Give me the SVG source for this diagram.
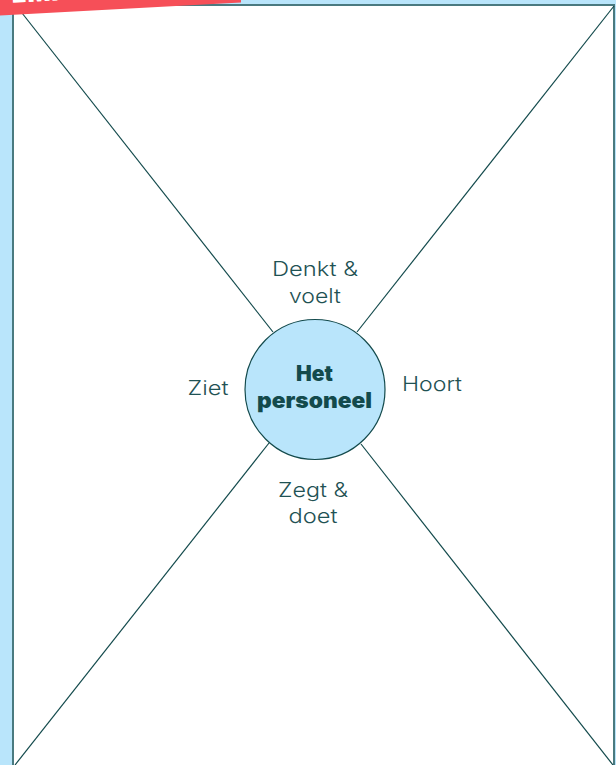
<svg xmlns="http://www.w3.org/2000/svg" width="616" height="765" viewBox="0 0 616 765">
<style>
.l{font-family:"Inter","Liberation Sans",sans-serif;font-size:20px;font-weight:300;fill:#1f5254;text-anchor:middle}
.b{font-family:"Inter","Liberation Sans",sans-serif;font-size:21px;font-weight:900;fill:#134a4c;text-anchor:middle}
.c{stroke:#134a4c;stroke-width:1.2;fill:none}
</style>
<rect width="616" height="765" fill="#b9e5fb"/>
<rect id="frame" x="13" y="5" width="601" height="770" fill="#fff" stroke="#4a7a80" stroke-width="2"/>
<g id="connectors">
<line class="c" x1="22" y1="13" x2="273" y2="332"/>
<line class="c" x1="614" y1="6" x2="357" y2="332"/>
<line class="c" x1="15" y1="765" x2="269" y2="443"/>
<line class="c" x1="613" y1="765" x2="361" y2="444"/>
</g>
<g id="banner">
<polygon points="0,0 241,0 241,2.500 0,15.500" fill="#f64f58"/>
<text x="12" y="2.800" transform="rotate(-3.100 12 2.800)" font-family="Inter,'Liberation Sans',sans-serif" font-size="24" font-weight="900" letter-spacing="1" fill="#fff">EMP</text>
</g>
<g id="center">
<circle cx="315" cy="389.500" r="70" fill="#b9e5fb" stroke="#134a4c" stroke-width="1.200"/>
<text class="b" x="314.500" y="381">Het</text>
<text class="b" x="314.500" y="408" textLength="115" lengthAdjust="spacingAndGlyphs">personeel</text>
</g>
<g id="denkt"><text class="l" x="315" y="276" textLength="86" lengthAdjust="spacingAndGlyphs">Denkt &amp;</text><text class="l" x="315" y="303" textLength="52" lengthAdjust="spacingAndGlyphs">voelt</text></g>
<g id="ziet"><text class="l" x="208" y="395" textLength="41" lengthAdjust="spacingAndGlyphs">Ziet</text></g>
<g id="hoort"><text class="l" x="432" y="391" textLength="60" lengthAdjust="spacingAndGlyphs">Hoort</text></g>
<g id="zegt"><text class="l" x="313" y="497" textLength="70" lengthAdjust="spacingAndGlyphs">Zegt &amp;</text><text class="l" x="313" y="523" textLength="49" lengthAdjust="spacingAndGlyphs">doet</text></g>
</svg>
